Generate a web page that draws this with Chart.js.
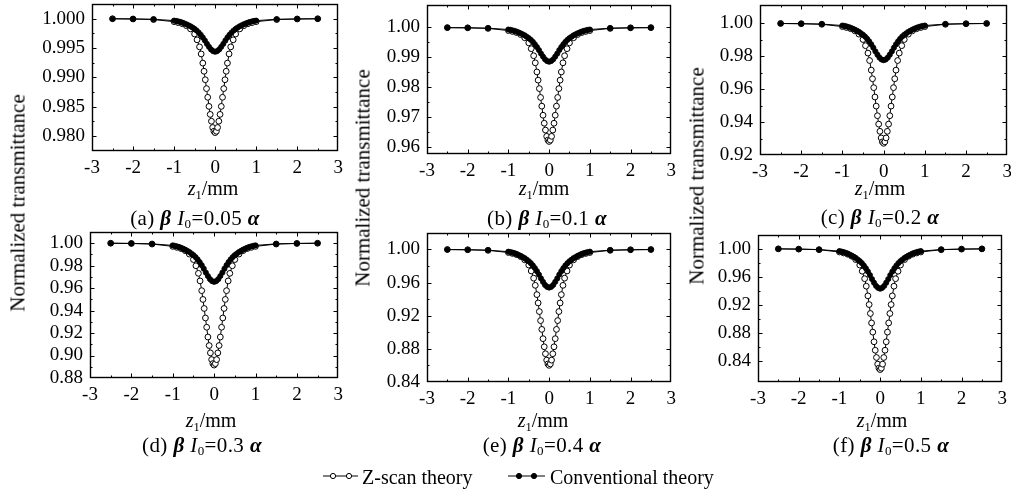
<!DOCTYPE html>
<html><head><meta charset="utf-8">
<script src="https://cdn.jsdelivr.net/npm/chart.js@4.4.0/dist/chart.umd.min.js"></script>
<style>
html,body{margin:0;padding:0;background:#fff;width:1011px;height:490px;overflow:hidden;position:relative;font-family:"Liberation Serif","Times New Roman",serif;color:#000}
canvas{position:absolute}
.t{position:absolute;white-space:nowrap;font-size:20px;line-height:1;transform:translate(-50%,-50%)}
.cap{font-size:21px;letter-spacing:0.4px}
.yt{position:absolute;white-space:nowrap;font-size:21px;line-height:1;transform:translate(-50%,-50%) rotate(-90deg)}
sub{font-size:0.62em;vertical-align:-0.3em;line-height:0}
.g{font-style:italic;font-weight:bold}
.leg{position:absolute;white-space:nowrap;font-size:20px;line-height:1;top:467px}
svg{position:absolute}
</style></head>
<body>
<script>
// ---------- data ----------
const xTicks = [-3,-2,-1,0,1,2,3];
const zscanX = [-2.5,-2,-1.5,-1,-0.9,-0.8,-0.7,-0.6,-0.5,-0.44,-0.38,-0.34,-0.3,-0.27,-0.24,-0.21,-0.18,-0.15,-0.12,-0.09,-0.06,-0.03,0,0.03,0.06,0.09,0.12,0.15,0.18,0.21,0.24,0.27,0.3,0.34,0.38,0.44,0.5,0.6,0.7,0.8,0.9,1,1.5,2,2.5];
const convX = [-2.5,-2,-1.5,-1,-0.95,-0.9,-0.85,-0.8,-0.75,-0.7,-0.65,-0.6,-0.55,-0.5,-0.45,-0.4,-0.35,-0.3,-0.25,-0.2,-0.15,-0.1,-0.05,0,0.05,0.1,0.15,0.2,0.25,0.3,0.35,0.4,0.45,0.5,0.55,0.6,0.65,0.7,0.75,0.8,0.85,0.9,0.95,1,1.5,2,2.5];

const zscanA = [0.99998,0.99994,0.99984,0.99948,0.99932,0.99913,0.99880,0.99825,0.99738,0.99639,0.99519,0.99399,0.99243,0.99104,0.98960,0.98809,0.98661,0.98506,0.98370,0.98254,0.98147,0.98083,0.98060,0.98083,0.98147,0.98254,0.98370,0.98506,0.98661,0.98809,0.98960,0.99104,0.99243,0.99399,0.99519,0.99639,0.99738,0.99825,0.99880,0.99913,0.99932,0.99948,0.99984,0.99994,0.99998];
const zscanB = [0.99996,0.99989,0.99969,0.99897,0.99866,0.99828,0.99763,0.99656,0.99484,0.99289,0.99053,0.98816,0.98510,0.98235,0.97952,0.97655,0.97364,0.97059,0.96791,0.96562,0.96352,0.96226,0.96180,0.96226,0.96352,0.96562,0.96791,0.97059,0.97364,0.97655,0.97952,0.98235,0.98510,0.98816,0.99053,0.99289,0.99484,0.99656,0.99763,0.99828,0.99866,0.99897,0.99969,0.99989,0.99996];
const zscanC = [0.99993,0.99978,0.99942,0.99803,0.99745,0.99672,0.99548,0.99344,0.99016,0.98644,0.98192,0.97740,0.97157,0.96632,0.96093,0.95524,0.94970,0.94387,0.93876,0.93439,0.93038,0.92797,0.92710,0.92797,0.93038,0.93439,0.93876,0.94387,0.94970,0.95524,0.96093,0.96632,0.97157,0.97740,0.98192,0.98644,0.99016,0.99344,0.99548,0.99672,0.99745,0.99803,0.99942,0.99978,0.99993];
const zscanD = [0.99989,0.99967,0.99913,0.99707,0.99620,0.99512,0.99327,0.99023,0.98535,0.97982,0.97309,0.96636,0.95768,0.94987,0.94184,0.93338,0.92513,0.91645,0.90886,0.90235,0.89638,0.89280,0.89150,0.89280,0.89638,0.90235,0.90886,0.91645,0.92513,0.93338,0.94184,0.94987,0.95768,0.96636,0.97309,0.97982,0.98535,0.99023,0.99327,0.99512,0.99620,0.99707,0.99913,0.99967,0.99989];
const zscanE = [0.99986,0.99958,0.99888,0.99622,0.99510,0.99370,0.99133,0.98741,0.98111,0.97398,0.96530,0.95663,0.94544,0.93537,0.92501,0.91410,0.90347,0.89228,0.88248,0.87409,0.86640,0.86178,0.86010,0.86178,0.86640,0.87409,0.88248,0.89228,0.90347,0.91410,0.92501,0.93537,0.94544,0.95663,0.96530,0.97398,0.98111,0.98741,0.99133,0.99370,0.99510,0.99622,0.99888,0.99958,0.99986];
const zscanF = [0.99983,0.99948,0.99862,0.99535,0.99397,0.99225,0.98932,0.98450,0.97675,0.96797,0.95729,0.94662,0.93284,0.92044,0.90770,0.89427,0.88118,0.86741,0.85535,0.84502,0.83555,0.82987,0.82780,0.82987,0.83555,0.84502,0.85535,0.86741,0.88118,0.89427,0.90770,0.92044,0.93284,0.94662,0.95729,0.96797,0.97675,0.98450,0.98932,0.99225,0.99397,0.99535,0.99862,0.99948,0.99983];

const convA = [0.99997,0.99994,0.99989,0.99966,0.99961,0.99952,0.99944,0.99932,0.99918,0.99904,0.99887,0.99870,0.99848,0.99825,0.99797,0.99763,0.99724,0.99679,0.99628,0.99571,0.99521,0.99476,0.99447,0.99436,0.99447,0.99476,0.99521,0.99571,0.99628,0.99679,0.99724,0.99763,0.99797,0.99825,0.99848,0.99870,0.99887,0.99904,0.99918,0.99932,0.99944,0.99952,0.99961,0.99966,0.99989,0.99994,0.99997];
const convB = [0.99994,0.99989,0.99977,0.99931,0.99920,0.99902,0.99885,0.99862,0.99834,0.99805,0.99771,0.99736,0.99690,0.99644,0.99587,0.99518,0.99438,0.99346,0.99243,0.99128,0.99025,0.98933,0.98876,0.98853,0.98876,0.98933,0.99025,0.99128,0.99243,0.99346,0.99438,0.99518,0.99587,0.99644,0.99690,0.99736,0.99771,0.99805,0.99834,0.99862,0.99885,0.99902,0.99920,0.99931,0.99977,0.99989,0.99994];
const convC = [0.99989,0.99978,0.99955,0.99866,0.99843,0.99810,0.99776,0.99731,0.99675,0.99619,0.99552,0.99485,0.99395,0.99306,0.99194,0.99059,0.98902,0.98723,0.98522,0.98298,0.98096,0.97917,0.97805,0.97760,0.97805,0.97917,0.98096,0.98298,0.98522,0.98723,0.98902,0.99059,0.99194,0.99306,0.99395,0.99485,0.99552,0.99619,0.99675,0.99731,0.99776,0.99810,0.99843,0.99866,0.99955,0.99978,0.99989];
const convD = [0.99983,0.99966,0.99931,0.99793,0.99759,0.99707,0.99655,0.99586,0.99500,0.99414,0.99310,0.99207,0.99069,0.98931,0.98758,0.98551,0.98310,0.98034,0.97723,0.97378,0.97068,0.96792,0.96619,0.96550,0.96619,0.96792,0.97068,0.97378,0.97723,0.98034,0.98310,0.98551,0.98758,0.98931,0.99069,0.99207,0.99310,0.99414,0.99500,0.99586,0.99655,0.99707,0.99759,0.99793,0.99931,0.99966,0.99983];
const convE = [0.99977,0.99954,0.99908,0.99723,0.99677,0.99608,0.99539,0.99447,0.99332,0.99216,0.99078,0.98940,0.98755,0.98571,0.98340,0.98064,0.97741,0.97372,0.96957,0.96496,0.96082,0.95713,0.95482,0.95390,0.95482,0.95713,0.96082,0.96496,0.96957,0.97372,0.97741,0.98064,0.98340,0.98571,0.98755,0.98940,0.99078,0.99216,0.99332,0.99447,0.99539,0.99608,0.99677,0.99723,0.99908,0.99954,0.99977];
const convF = [0.99972,0.99943,0.99886,0.99659,0.99602,0.99516,0.99431,0.99317,0.99175,0.99033,0.98862,0.98691,0.98464,0.98236,0.97952,0.97610,0.97212,0.96757,0.96245,0.95676,0.95164,0.94708,0.94424,0.94310,0.94424,0.94708,0.95164,0.95676,0.96245,0.96757,0.97212,0.97610,0.97952,0.98236,0.98464,0.98691,0.98862,0.99033,0.99175,0.99317,0.99431,0.99516,0.99602,0.99659,0.99886,0.99943,0.99972];

const yTicksA = [0.980,0.985,0.990,0.995,1.000];
const yTicksB = [0.96,0.97,0.98,0.99,1.00];
const yTicksC = [0.92,0.94,0.96,0.98,1.00];
const yTicksD = [0.88,0.90,0.92,0.94,0.96,0.98,1.00];
const yTicksE = [0.84,0.88,0.92,0.96,1.00];
const yTicksF = [0.84,0.88,0.92,0.96,1.00];

const captions = ['(a)','(b)','(c)','(d)','(e)','(f)'];
const ratios = ['0.05','0.1','0.2','0.3','0.4','0.5'];
const legendLabels = ['Z-scan theory','Conventional theory'];

// ---------- layout ----------
const panels = [
  {box:[92,4,338,151],  yMin:0.97747, yMax:1.00242, yTicks:yTicksA, dec:3, z:zscanA, c:convA, xt:[213,188], cap:[195,218]},
  {box:[427,5,671,154], yMin:0.9576,  yMax:1.0074,  yTicks:yTicksB, dec:2, z:zscanB, c:convB, xt:[544,188], cap:[547,218]},
  {box:[760,5,1007,155],yMin:0.92,    yMax:1.0109,  yTicks:yTicksC, dec:2, z:zscanC, c:convC, xt:[880,188], cap:[880,217]},
  {box:[90,232,338,378],yMin:0.88,    yMax:1.0095,  yTicks:yTicksD, dec:2, z:zscanD, c:convD, xt:[211,420], cap:[202,445]},
  {box:[427,233,671,382],yMin:0.84,   yMax:1.0193,  yTicks:yTicksE, dec:2, z:zscanE, c:convE, xt:[543,420], cap:[542,445]},
  {box:[758,235,1002,382],yMin:0.8101,yMax:1.019,   yTicks:yTicksF, dec:2, z:zscanF, c:convF, xt:[882,420], cap:[891,445]}
];

const frameTicks = {
  id:'frameTicks',
  afterDatasetsDraw(chart, args, opts){
    const {ctx, chartArea:a, scales:{x, y}} = chart;
    const L=Math.round(a.left)+0.5, R=Math.round(a.right)-0.5, T=Math.round(a.top)+0.5, B=Math.round(a.bottom)-0.5;
    ctx.save();
    ctx.strokeStyle='#000'; ctx.lineWidth=1.4;
    ctx.strokeRect(L, T, R-L, B-T);
    ctx.lineWidth=1;
    ctx.beginPath();
    const xs = opts.xTicks;
    for (let i=0;i<xs.length;i++){
      const px = Math.round(x.getPixelForValue(xs[i]))+0.5;
      if (i>0 && i<xs.length-1){ ctx.moveTo(px,B); ctx.lineTo(px,B-4); ctx.moveTo(px,T); ctx.lineTo(px,T+4); }
      if (i<xs.length-1){
        const pm = Math.round(x.getPixelForValue((xs[i]+xs[i+1])/2))+0.5;
        ctx.moveTo(pm,B); ctx.lineTo(pm,B-2); ctx.moveTo(pm,T); ctx.lineTo(pm,T+2);
      }
    }
    const ys = opts.yTicks;
    for (let i=0;i<ys.length;i++){
      const py = Math.round(y.getPixelForValue(ys[i]))+0.5;
      if (py>T+1 && py<B-1){ ctx.moveTo(L,py); ctx.lineTo(L+4,py); ctx.moveTo(R,py); ctx.lineTo(R-4,py); }
      if (i<ys.length-1){
        const pm = Math.round(y.getPixelForValue((ys[i]+ys[i+1])/2))+0.5;
        ctx.moveTo(L,pm); ctx.lineTo(L+2,pm); ctx.moveTo(R,pm); ctx.lineTo(R-2,pm);
      }
    }
    ctx.stroke();
    ctx.restore();
  }
};

const AXW = 62, AXH = 34, PT = 2, PR = 10;
const font = {family:'"Liberation Serif", "Times New Roman", serif', size:19};

function pts(xs, ys){ return xs.map((v,i)=>({x:v, y:ys[i]})); }

function buildConfig(p){
  return {
    type:'scatter',
    data:{datasets:[
      {label:legendLabels[1], data:pts(convX, p.c), showLine:true, borderColor:'#000', borderWidth:1,
       pointRadius:2.6, pointBackgroundColor:'#000', pointBorderColor:'#000', pointBorderWidth:0.8},
      {label:legendLabels[0], data:pts(zscanX, p.z), showLine:true, borderColor:'#000', borderWidth:1,
       pointRadius:2.9, pointBackgroundColor:'#fff', pointBorderColor:'#000', pointBorderWidth:1}
    ]},
    options:{
      responsive:false, maintainAspectRatio:false, animation:false, devicePixelRatio:1,
      layout:{padding:{left:0, top:PT, right:PR, bottom:0}},
      plugins:{legend:{display:false}, tooltip:{enabled:false},
               frameTicks:{xTicks:xTicks, yTicks:p.yTicks}},
      scales:{
        x:{type:'linear', min:-3, max:3,
           afterFit:s=>{s.height=AXH;},
           afterBuildTicks:s=>{s.ticks = xTicks.map(v=>({value:v}));},
           grid:{display:false, drawTicks:false}, border:{display:false},
           ticks:{font:font, color:'#000', padding:6, maxRotation:0, autoSkip:false, callback:v=>String(v)}},
        y:{type:'linear', min:p.yMin, max:p.yMax,
           afterFit:s=>{s.width=AXW;},
           afterBuildTicks:s=>{s.ticks = p.yTicks.map(v=>({value:v}));},
           grid:{display:false, drawTicks:false}, border:{display:false},
           ticks:{font:font, color:'#000', padding:7, autoSkip:false, callback:v=>Number(v).toFixed(p.dec)}}
      }
    },
    plugins:[frameTicks]
  };
}

function makeCanvas(w,h){
  const cv = document.createElement('canvas');
  cv.width=w; cv.height=h; cv.style.width=w+'px'; cv.style.height=h+'px';
  cv.style.left='0px'; cv.style.top='0px';
  document.body.appendChild(cv);
  return cv;
}

panels.forEach((p, k) => {
  const bw = p.box[2]-p.box[0], bh = p.box[3]-p.box[1];
  let w = bw+AXW+PR, h = bh+PT+AXH;
  let cv = makeCanvas(w,h);
  let ch = new Chart(cv, buildConfig(p));
  const a0 = ch.chartArea;
  w += bw-(a0.right-a0.left); h += bh-(a0.bottom-a0.top);
  ch.destroy(); cv.remove();
  cv = makeCanvas(Math.round(w), Math.round(h));
  ch = new Chart(cv, buildConfig(p));
  const a = ch.chartArea;
  cv.style.left=(p.box[0]-a.left)+'px'; cv.style.top=(p.box[1]-a.top)+'px';

  const xt = document.createElement('div');
  xt.className='t'; xt.style.left=p.xt[0]+'px'; xt.style.top=p.xt[1]+'px';
  xt.innerHTML='<i>z</i><sub>1</sub>/mm';
  document.body.appendChild(xt);
  const cp = document.createElement('div');
  cp.className='t cap'; cp.style.left=p.cap[0]+'px'; cp.style.top=p.cap[1]+'px';
  cp.innerHTML=captions[k]+' <span class="g">β</span> <i>I</i><sub>0</sub>='+ratios[k]+' <span class="g">α</span>';
  document.body.appendChild(cp);
});

// y-axis titles
[[18,203],[363,178],[697,176]].forEach(c=>{
  const d=document.createElement('div'); d.className='yt';
  d.style.left=c[0]+'px'; d.style.top=c[1]+'px';
  d.textContent='Normalized transmittance';
  document.body.appendChild(d);
});

// legend
function legSym(x0, x1, px, filled){
  const ns='http://www.w3.org/2000/svg';
  const s=document.createElementNS(ns,'svg');
  s.setAttribute('width', x1-x0); s.setAttribute('height', 12);
  s.style.left=x0+'px'; s.style.top='470px';
  const l=document.createElementNS(ns,'line');
  l.setAttribute('x1',0); l.setAttribute('x2',x1-x0); l.setAttribute('y1',6); l.setAttribute('y2',6);
  l.setAttribute('stroke','#000'); l.setAttribute('stroke-width',1);
  s.appendChild(l);
  px.forEach(cx=>{
    const c=document.createElementNS(ns,'circle');
    c.setAttribute('cx',cx-x0); c.setAttribute('cy',6); c.setAttribute('r',2.6);
    c.setAttribute('fill', filled?'#000':'#fff'); c.setAttribute('stroke','#000'); c.setAttribute('stroke-width',1);
    s.appendChild(c);
  });
  document.body.appendChild(s);
}
legSym(323,358,[333,349],false);
legSym(508,545,[519,534],true);
[[362,legendLabels[0]],[550,legendLabels[1]]].forEach(e=>{
  const d=document.createElement('div'); d.className='leg';
  d.style.left=e[0]+'px'; d.textContent=e[1];
  document.body.appendChild(d);
});
</script>
</body></html>
